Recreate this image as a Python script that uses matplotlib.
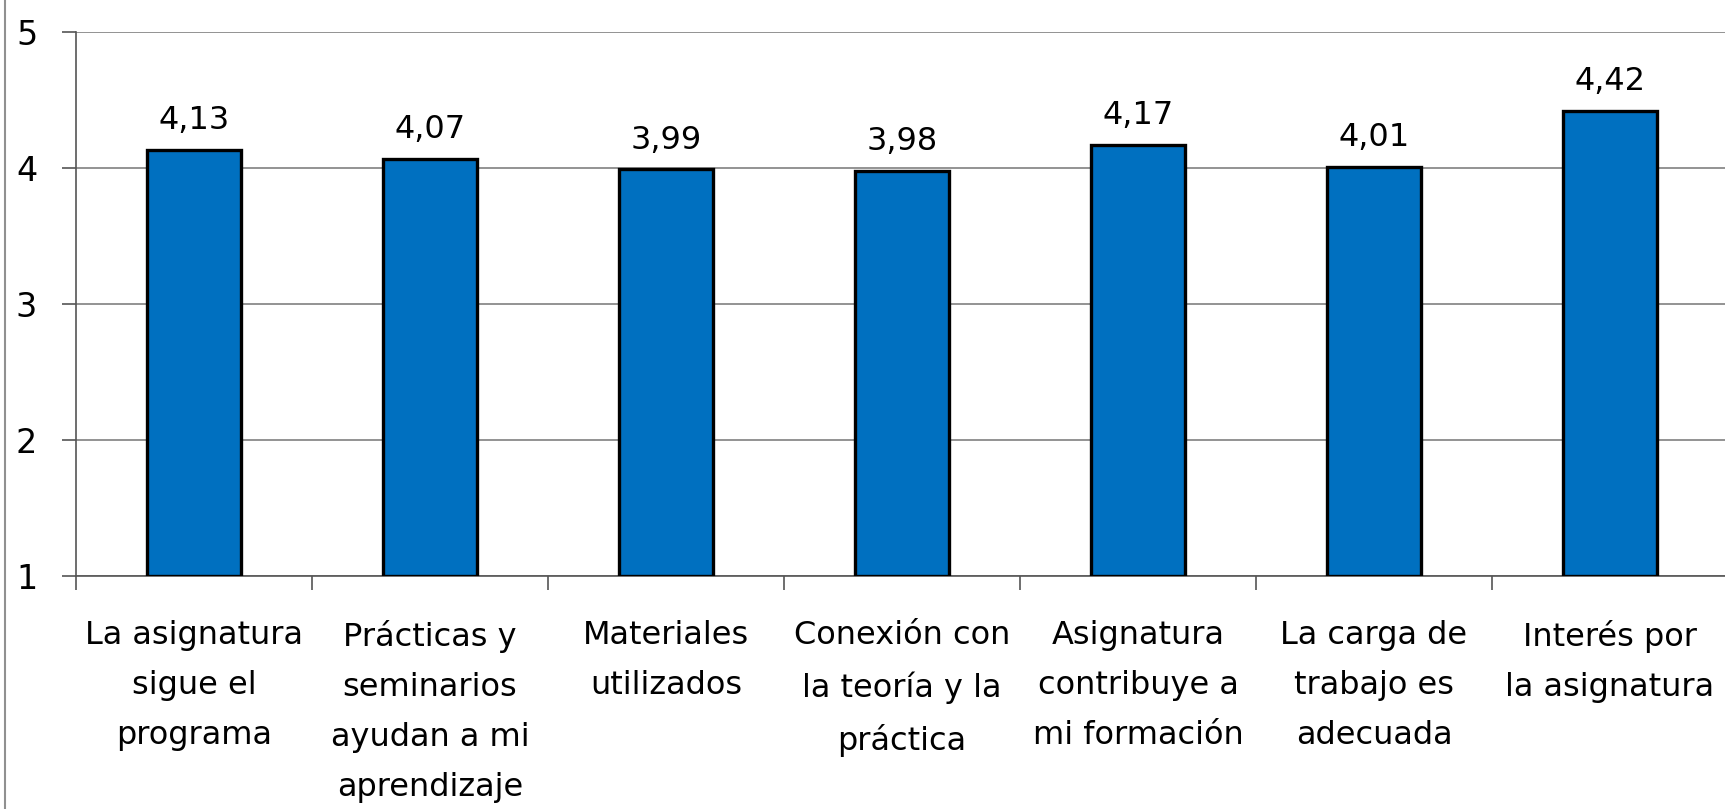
import matplotlib.pyplot as plt
from matplotlib.lines import Line2D

categories = [
    "La asignatura\nsigue el\nprograma",
    "Prácticas y\nseminarios\nayudan a mi\naprendizaje",
    "Materiales\nutilizados",
    "Conexión con\nla teoría y la\npráctica",
    "Asignatura\ncontribuye a\nmi formación",
    "La carga de\ntrabajo es\nadecuada",
    "Interés por\nla asignatura",
]
values = [4.13, 4.07, 3.99, 3.98, 4.17, 4.01, 4.42]
yticks = [1, 2, 3, 4, 5]

plt.rcParams["font.family"] = ["DejaVu Sans"]

fig = plt.figure(figsize=(17.25, 8.09), dpi=100)
ax = fig.add_axes([0.0441, 0.288, 0.9576, 0.6724])

x = list(range(len(categories)))
bars = ax.bar(x, [v - 1 for v in values], bottom=1, width=0.40,
              color="#0070C0", edgecolor="black", linewidth=2.4, zorder=3)

for xi, v in zip(x, values):
    ax.annotate(f"{v:.2f}".replace(".", ","), (xi, v), xytext=(0, 10),
                textcoords="offset points", ha="center", va="bottom",
                fontsize=23)

ax.set_xlim(-0.5, len(categories) - 0.5)
ax.set_ylim(1, 5)
ax.set_yticks(yticks)
ax.set_yticklabels([str(t) for t in yticks], fontsize=24)
ax.yaxis.grid(True, color="#808080", linewidth=1.2, zorder=0)

# category boundaries as ticks, labels at centres
ax.set_xticks([i - 0.5 for i in range(len(categories) + 1)])
ax.set_xticklabels([])
ax.set_xticks(x, minor=True)
ax.set_xticklabels(categories, minor=True, fontsize=23, linespacing=1.78)
ax.tick_params(axis="x", which="minor", length=0, pad=32)
ax.tick_params(axis="x", which="major", length=10, width=1.2, color="#555555")
ax.tick_params(axis="y", length=10, width=1.2, color="#555555", pad=18)

for side in ["top", "right"]:
    ax.spines[side].set_visible(False)
for side in ["left", "bottom"]:
    ax.spines[side].set_color("#555555")
    ax.spines[side].set_linewidth(1.2)

# outer chart frame on the left
fig.add_artist(Line2D([0.003, 0.003], [0, 1], color="#909090", linewidth=1.5,
                      transform=fig.transFigure))

fig.savefig("out.png", dpi=100)
